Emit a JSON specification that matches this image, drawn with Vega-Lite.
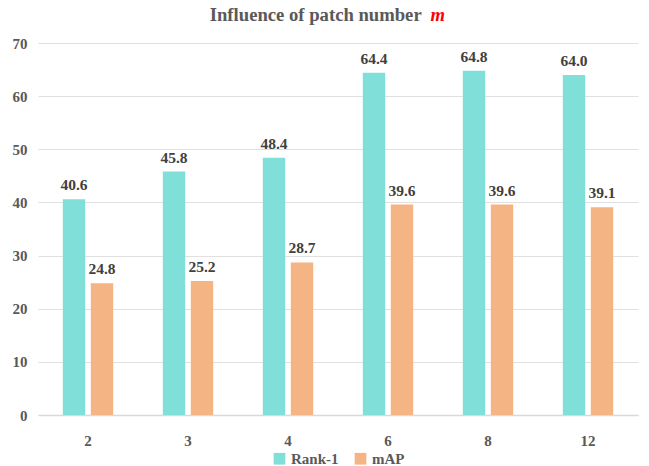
{
  "$schema": "https://vega.github.io/schema/vega-lite/v6.json",
  "width": 600,
  "height": 372,
  "autosize": {"type": "none"},
  "padding": {"left": 38, "top": 43, "right": 11, "bottom": 51},
  "background": "white",
  "title": {
    "text": "Influence of patch number\u00a0\u00a0\u00a0\u00a0\u00a0\u200b",
    "subtitle": "m",
    "anchor": "end",
    "dx": -193,
    "offset": 11,
    "font": "'Liberation Serif', 'Times New Roman', serif",
    "fontSize": 18.67,
    "fontWeight": "bold",
    "color": "#595959",
    "subtitleFont": "'Liberation Serif', 'Times New Roman', serif",
    "subtitleFontSize": 18.67,
    "subtitleFontWeight": "bold",
    "subtitleFontStyle": "italic",
    "subtitleColor": "#ff0000",
    "subtitlePadding": -18.67
  },
  "data": {
    "values": [
      {"m": "2", "metric": "Rank-1", "value": 40.6},
      {"m": "2", "metric": "mAP", "value": 24.8},
      {"m": "3", "metric": "Rank-1", "value": 45.8},
      {"m": "3", "metric": "mAP", "value": 25.2},
      {"m": "4", "metric": "Rank-1", "value": 48.4},
      {"m": "4", "metric": "mAP", "value": 28.7},
      {"m": "6", "metric": "Rank-1", "value": 64.4},
      {"m": "6", "metric": "mAP", "value": 39.6},
      {"m": "8", "metric": "Rank-1", "value": 64.8},
      {"m": "8", "metric": "mAP", "value": 39.6},
      {"m": "12", "metric": "Rank-1", "value": 64.0},
      {"m": "12", "metric": "mAP", "value": 39.1}
    ]
  },
  "encoding": {
    "x": {
      "field": "m",
      "type": "nominal",
      "sort": null,
      "scale": {"paddingInner": 0.44, "paddingOuter": 0.22},
      "axis": {
        "title": null,
        "labelAngle": 0,
        "labelFont": "'Liberation Serif', 'Times New Roman', serif",
        "labelFontSize": 15,
        "labelFontWeight": "bold",
        "labelColor": "#595959",
        "labelPadding": 18,
        "ticks": false,
        "domainColor": "#d9d9d9",
        "domainWidth": 1.5,
        "grid": false
      }
    },
    "xOffset": {
      "field": "metric",
      "type": "nominal",
      "scale": {"paddingInner": 0.2, "paddingOuter": 0.1}
    },
    "y": {
      "field": "value",
      "type": "quantitative",
      "scale": {"domain": [0, 70]},
      "axis": {
        "title": null,
        "values": [0, 10, 20, 30, 40, 50, 60, 70],
        "labelFont": "'Liberation Serif', 'Times New Roman', serif",
        "labelFontSize": 15,
        "labelFontWeight": "bold",
        "labelColor": "#595959",
        "labelPadding": 11,
        "ticks": false,
        "domain": false,
        "gridColor": "#e0e0e0",
        "gridWidth": 1
      }
    }
  },
  "layer": [
    {
      "mark": {"type": "bar"},
      "encoding": {
        "color": {
          "field": "metric",
          "type": "nominal",
          "scale": {"domain": ["Rank-1", "mAP"], "range": ["#80dfd9", "#f4b483"]},
          "legend": {
            "title": null,
            "orient": "bottom",
            "direction": "horizontal",
            "symbolType": "square",
            "symbolSize": 137,
            "symbolStrokeWidth": 0,
            "labelFont": "'Liberation Serif', 'Times New Roman', serif",
            "labelFontSize": 15,
            "labelFontWeight": "bold",
            "labelColor": "#595959",
            "labelOffset": 4,
            "columnPadding": 14,
            "offset": 3,
            "padding": 0
          }
        }
      }
    },
    {
      "mark": {
        "type": "text",
        "dy": -9,
        "font": "'Liberation Serif', 'Times New Roman', serif",
        "fontSize": 15.5,
        "fontWeight": "bold",
        "color": "#404040",
        "baseline": "alphabetic"
      },
      "encoding": {
        "text": {"field": "value", "type": "quantitative", "format": ".1f"}
      }
    }
  ],
  "config": {
    "view": {"stroke": null},
    "legend": {"layout": {"bottom": {"anchor": "middle"}}}
  }
}
